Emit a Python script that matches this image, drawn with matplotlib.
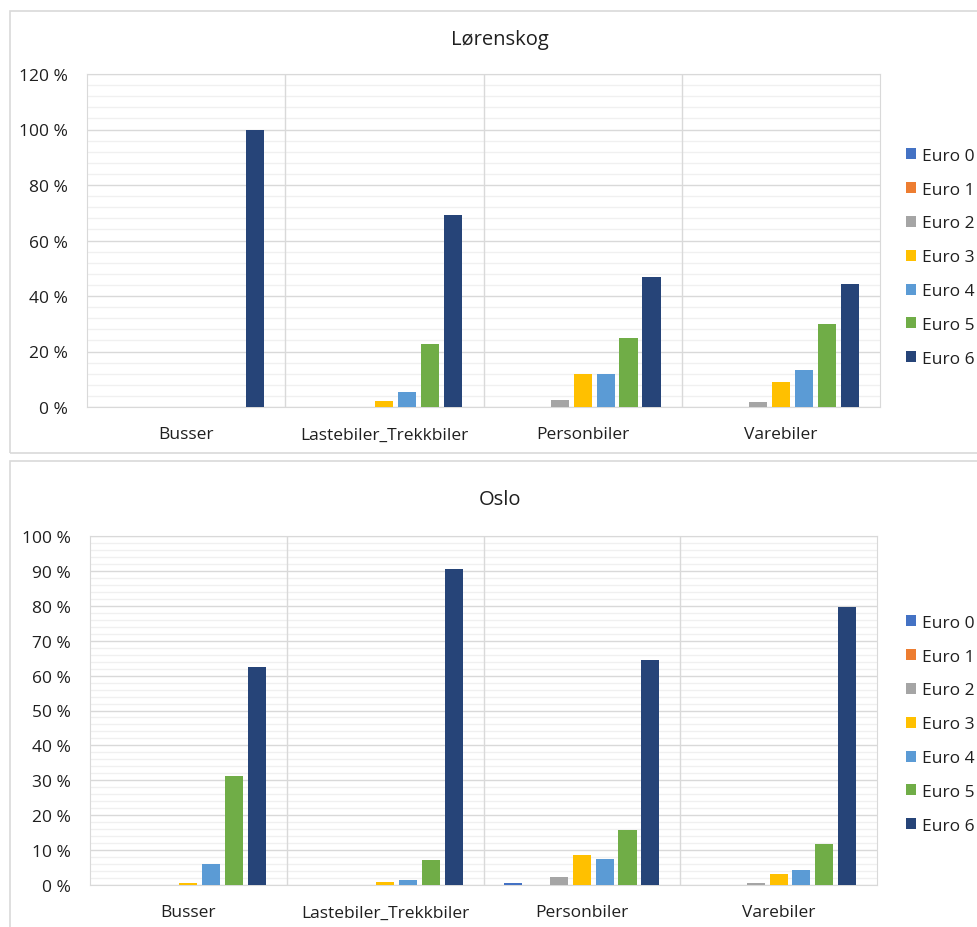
import matplotlib.pyplot as plt
import numpy as np
from matplotlib.patches import Rectangle
from matplotlib.ticker import MultipleLocator, FuncFormatter

plt.rcParams['font.family'] = ['Open Sans', 'DejaVu Sans']

categories = ['Busser', 'Lastebiler_Trekkbiler', 'Personbiler', 'Varebiler']
series = ['Euro 0', 'Euro 1', 'Euro 2', 'Euro 3', 'Euro 4', 'Euro 5', 'Euro 6']
colors = ['#4472C4', '#ED7D31', '#A5A5A5', '#FFC000', '#5B9BD5', '#70AD47', '#264478']

# percent per category, one list per Euro class (Euro 0 .. Euro 6)
lorenskog = [
    [0, 0, 0, 0],
    [0, 0, 0, 0],
    [0, 0, 2.7, 1.8],
    [0, 2.0, 12.0, 8.9],
    [0, 5.3, 11.8, 13.4],
    [0, 22.6, 24.8, 30.0],
    [100, 69.2, 46.8, 44.3],
]
oslo = [
    [0, 0, 0.5, 0],
    [0, 0, 0, 0],
    [0, 0, 2.3, 0.7],
    [0.5, 0.8, 8.7, 3.1],
    [5.9, 1.4, 7.5, 4.2],
    [31.3, 7.1, 15.8, 11.7],
    [62.4, 90.5, 64.5, 79.6],
]

W, H = 978, 928
fig = plt.figure(figsize=(W / 100, H / 100), dpi=100)

def px(l, t, r, b):
    # pixel box -> figure fraction [left, bottom, width, height]
    return [l / W, (H - b) / H, (r - l) / W, (b - t) / H]

txt = '#1f1f1f'
grid_major = '#d9d9d9'
grid_minor = '#f0f0f0'
fs = 12.5

def panel(box, title, title_xy, data, ymax, major, minor, legend_top):
    fig.add_artist(Rectangle((box[0] / W, (H - box[3]) / H), (box[2] - box[0]) / W,
                             (box[3] - box[1]) / H, transform=fig.transFigure,
                             fill=False, edgecolor='#d9d9d9', lw=1.2))
    ax = fig.add_axes(px(*box[4]))
    x = np.arange(len(categories))
    for j, vals in enumerate(data):
        ax.bar(x + (j - 3) * 0.116, vals, width=0.092, color=colors[j],
               label=series[j], linewidth=0, zorder=3)
    ax.set_xlim(-0.5, len(categories) - 0.5)
    ax.set_ylim(0, ymax)
    ax.yaxis.set_major_locator(MultipleLocator(major))
    ax.yaxis.set_minor_locator(MultipleLocator(minor))
    ax.yaxis.set_major_formatter(FuncFormatter(lambda v, p: f'{v:.0f} %'))
    ax.grid(axis='y', which='major', color=grid_major, lw=1.0)
    ax.grid(axis='y', which='minor', color=grid_minor, lw=1.0)
    for b in [0.5, 1.5, 2.5]:
        ax.axvline(b, color=grid_major, lw=1.0, zorder=1)
    ax.set_axisbelow(True)
    ax.set_xticks(x)
    ax.set_xticklabels(categories)
    ax.tick_params(axis='both', which='both', length=0, labelsize=fs, colors=txt)
    ax.tick_params(axis='x', pad=14)
    ax.tick_params(axis='y', pad=14)
    for s in ax.spines.values():
        s.set_color(grid_major)
    fig.text(title_xy[0] / W, (H - title_xy[1]) / H, title, ha='center', va='center',
             fontsize=14.5, color=txt)
    fig.legend(*ax.get_legend_handles_labels(), loc='upper left',
               bbox_to_anchor=(890 / W, (H - legend_top) / H), frameon=False,
               fontsize=fs, handlelength=0.6, handleheight=0.6, handletextpad=0.35,
               labelspacing=1.03, labelcolor=txt)
    return ax

panel((10, 12, 990, 454, (87, 75, 880, 408)), 'Lørenskog', (500, 40),
      lorenskog, 120, 20, 4, 133)
panel((10, 462, 990, 940, (90, 537, 877, 886)), 'Oslo', (500, 500),
      oslo, 100, 10, 2, 600)

fig.savefig('out.png', dpi=100)
